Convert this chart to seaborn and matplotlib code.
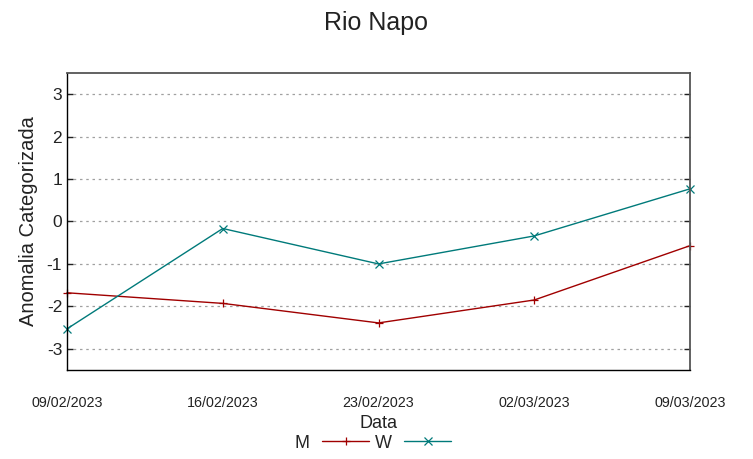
import matplotlib
matplotlib.use("Agg")
import matplotlib.pyplot as plt
import seaborn as sns
import pandas as pd
from matplotlib.lines import Line2D

dates = ["09/02/2023", "16/02/2023", "23/02/2023", "02/03/2023", "09/03/2023"]
m_values = [-1.68, -1.93, -2.39, -1.85, -0.57]
w_values = [-2.53, -0.165, -1.0, -0.34, 0.77]
y_ticks = [-3, -2, -1, 0, 1, 2, 3]

sns.set_theme(style="white")
plt.rcParams['font.family'] = ['Liberation Sans', 'DejaVu Sans']

df = pd.DataFrame({
    "Data": dates * 2,
    "Valor": m_values + w_values,
    "Serie": ["M"] * len(dates) + ["W"] * len(dates),
})

fig = plt.figure(figsize=(7.53, 4.59), dpi=100)
ax = fig.add_axes([67/753, 1-370/459, (690-67)/753, (370-73)/459])

palette = {"M": "#a00000", "W": "#007a7a"}
sns.lineplot(data=df, x="Data", y="Valor", hue="Serie", style="Serie",
             markers={"M": "+", "W": "x"}, dashes=False, palette=palette,
             linewidth=1.0, markersize=6, ax=ax, legend=False, sort=False)
for ln in ax.lines:
    ln.set_markeredgecolor(ln.get_color())
    ln.set_markeredgewidth(0.9)
    ln.set_clip_on(False)
    if ln.get_marker() == "x":
        ln.set_markersize(5.5)

ax.set_xlim(0, len(dates) - 1)
ax.set_ylim(-3.5, 3.5)
ax.set_yticks(y_ticks)
ax.set_yticklabels([str(t) for t in y_ticks], fontsize=12.5)
ax.set_xticks(range(len(dates)))
ax.set_xticklabels(dates, fontsize=10.3)
ax.tick_params(axis='x', length=0, pad=19, colors='#222222')
ax.tick_params(axis='y', direction='in', length=4, width=1, colors='#222222', right=True, left=True)
ax.yaxis.grid(True, linestyle=(0, (2, 3)), color='#a0a0a0', linewidth=0.9)
ax.xaxis.grid(False)

for side in ['left', 'bottom']:
    ax.spines[side].set_color('black')
    ax.spines[side].set_linewidth(1.0)
for side in ['top', 'right']:
    ax.spines[side].set_color('#555555')
    ax.spines[side].set_linewidth(1.3)

ax.set_xlabel("Data", fontsize=13, labelpad=3.5, color='#222222')
ax.set_ylabel("Anomalia Categorizada", fontsize=14.5, labelpad=6, color='#222222')
fig.suptitle("Rio Napo", fontsize=18, y=0.975, color='#222222')

handles = [Line2D([], [], color=palette["M"], marker="+", markersize=6, markeredgewidth=0.9, linewidth=1.0),
           Line2D([], [], color=palette["W"], marker="x", markersize=5.5, markeredgewidth=0.9, linewidth=1.0)]
fig.legend(handles, ["M", "W"], loc='center', bbox_to_anchor=(373/753, 1-443/459),
           ncol=2, frameon=False, markerfirst=False, fontsize=13, handlelength=2.6,
           handletextpad=0.7, columnspacing=0.3, borderpad=0)

fig.savefig("out.png", dpi=100)
